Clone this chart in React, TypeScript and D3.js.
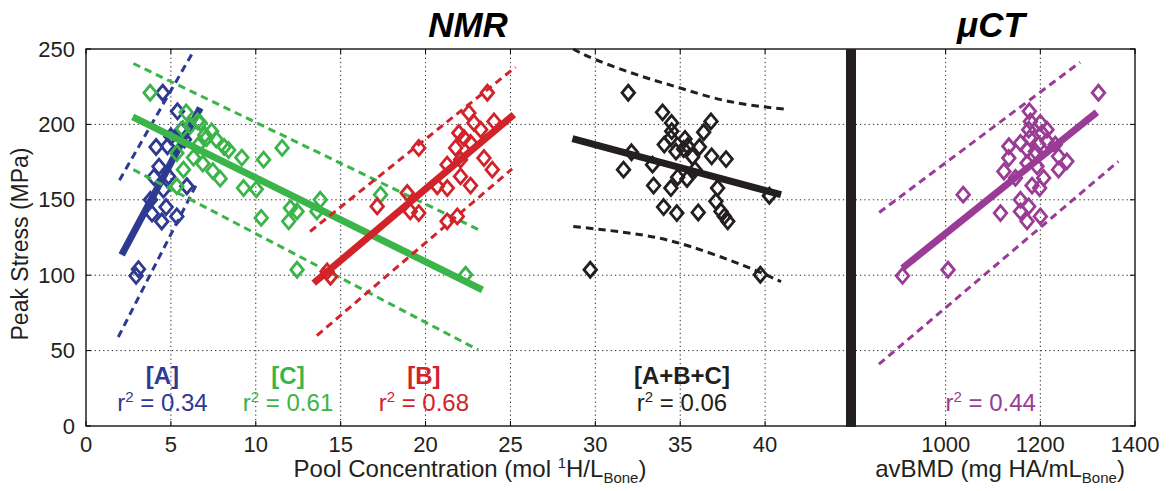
import React from "react";
import * as d3 from "d3";

// ---------- data ----------
const xTicksLeft = [0, 5, 10, 15, 20, 25, 30, 35, 40];
const xTicksRight = [1000, 1200, 1400];
const yTicks = [0, 50, 100, 150, 200, 250];

const pointsA: [number, number][] = [
  [4.52, 221], [5.39, 208.7], [4.13, 185], [4.8, 185.5], [4.86, 165.5], [4.56, 156.7],
  [5.94, 159], [3.89, 140.8], [4.72, 145.2], [4.46, 135.6], [5.35, 139], [3.09, 104],
  [2.95, 99.6], [4.3, 172], [5.0, 192], [3.8, 150], [5.6, 196], [4.0, 165], [5.8, 190],
];
const pointsC: [number, number][] = [
  [3.78, 221], [5.9, 208], [6.57, 202], [5.7, 197], [6.14, 199], [7.0, 193], [7.4, 195.4],
  [7.1, 191], [7.67, 190], [8.14, 185], [5.35, 181], [6.33, 178], [6.88, 174], [5.74, 170],
  [7.47, 169], [7.9, 164], [9.18, 178], [10.46, 176.6], [5.35, 159], [9.28, 157.8],
  [10.03, 157], [10.32, 138], [11.55, 184.4], [13.8, 150], [12.04, 144.5], [12.43, 142.3],
  [11.94, 135.7], [13.6, 142.3], [12.43, 103.6], [17.35, 153.4], [22.36, 100.3],
  [6.73, 201], [6.6, 186], [8.4, 183],
];
const pointsB: [number, number][] = [
  [23.64, 221], [22.55, 207.6], [24.03, 202], [22.85, 201], [23.25, 196.5], [21.96, 194.3],
  [22.26, 191], [19.6, 184.4], [22.65, 187.7], [21.77, 184.4], [23.44, 177.7], [21.27, 173.3],
  [22.06, 176.6], [23.93, 170], [20.69, 159], [21.28, 157.8], [22.06, 165.5], [22.65, 159.4],
  [18.92, 154.5], [17.15, 145.6], [19.1, 142.3], [19.6, 141.2], [21.27, 135.7], [21.87, 139],
  [14.4, 99], [14.2, 102.5],
];
const pointsABC: [number, number][] = [
  [31.94, 221], [33.96, 208], [34.49, 201], [36.81, 202], [36.38, 194.8], [34.45, 191],
  [34.5, 195.5], [35.28, 190.4], [34.06, 186.6], [35.44, 185.5], [36.13, 185], [34.75, 182],
  [35.2, 183.7], [32.13, 181.5], [36.85, 178.8], [37.7, 177], [35.73, 178.4], [33.37, 173.3],
  [35.87, 170], [31.66, 170], [34.85, 165], [35.4, 163.8], [33.43, 159.4], [34.45, 157.8],
  [37.2, 157.8], [40.25, 152.7], [37.1, 149], [34.02, 145.2], [34.8, 141.2], [36.06, 141.6],
  [37.4, 142.3], [37.8, 135.7], [37.6, 139], [29.7, 103.6], [39.72, 100.3],
];
const pointsCT: [number, number][] = [
  [1322.8, 221], [1176.8, 208.7], [1179, 202], [1200, 201], [1214, 196.5], [1175.5, 196.5],
  [1177.5, 191], [1203.5, 194.3], [1158, 187.7], [1133.5, 185.5], [1214, 189], [1196.5, 186.6],
  [1231.6, 186.6], [1172, 183.3], [1189.5, 182], [1133.5, 177.7], [1238.5, 178.8], [1256, 175.5],
  [1172, 174.4], [1193, 172.2], [1123, 168.8], [1238.5, 170], [1147.4, 164.5], [1207, 164.5],
  [1182.5, 159.4], [1198.5, 157.8], [1037, 153.4], [1158, 150], [1175.4, 145.6], [1158, 142.3],
  [1115.8, 141.2], [1172, 135.7], [1200, 139], [1005, 103.6], [908.8, 99.6],
];

// fit lines and prediction bands (endpoints)
const fitA: [number, number][] = [[2.1, 113.5], [6.73, 211]];
const upperA: [number, number][] = [[1.97, 163], [6.33, 248.5]];
const lowerA: [number, number][] = [[1.9, 59], [6.5, 160]];
const fitC: [number, number][] = [[2.75, 205], [23.35, 90.3]];
const upperC: [number, number][] = [[2.79, 240.4], [23.35, 129]];
const lowerC: [number, number][] = [[2.79, 170], [23.1, 50.5]];
const fitB: [number, number][] = [[13.41, 94.7], [25.2, 206.5]];
const upperB: [number, number][] = [[13.2, 129], [25.3, 238]];
const lowerB: [number, number][] = [[13.6, 60], [25.1, 170.5]];
const fitABC: [number, number][] = [[28.65, 190.6], [40.94, 153.4]];
const upperABC: [number, number][] = [[28.7, 250], [30.0, 243], [32.7, 232], [35.04, 224], [37.8, 215.4], [41.24, 210]];
const lowerABC: [number, number][] = [[28.7, 132.3], [32.7, 126.8], [35.6, 119], [38.6, 107], [40.94, 95.8]];
const fitCT: [number, number][] = [[908.8, 104.7], [1319.4, 208]];
const upperCT: [number, number][] = [[859.6, 141.6], [1284, 241.2]];
const lowerCT: [number, number][] = [[859, 41], [1365, 175.5]];

const labels = [
  { group: "[A]", r2: "0.34", xv: 4.5, color: "#2E3A92" },
  { group: "[C]", r2: "0.61", xv: 11.9, color: "#3BB44A" },
  { group: "[B]", r2: "0.68", xv: 19.9, color: "#D2232A" },
  { group: "[A+B+C]", r2: "0.06", xv: 35.1, color: "#231F20" },
];
const labelCT = { r2: "0.44", xv: 1095, color: "#9A3B95" };

// ---------- layout ----------
const W = 1170, H = 491;
const FONT = "'Liberation Sans', Arial, Helvetica, sans-serif";
const xL = d3.scaleLinear().domain([0, 45]).range([86, 850]);
const xR = d3.scaleLinear().domain([800, 1400]).range([851, 1135]);
const y = d3.scaleLinear().domain([0, 250]).range([426, 49]);

const diamond = (cx: number, cy: number) =>
  `M${cx},${cy - 7.5}L${cx + 6.3},${cy}L${cx},${cy + 7.5}L${cx - 6.3},${cy}Z`;

function Group({ pts, fit, up, lo, color, xs, curved }: any) {
  const line = d3.line<[number, number]>().x((d) => xs(d[0])).y((d) => y(d[1]));
  const cline = d3.line<[number, number]>().x((d) => xs(d[0])).y((d) => y(d[1])).curve(d3.curveNatural);
  const band = curved ? cline : line;
  return (
    <g>
      <path d={band(up) || ""} stroke={color} strokeWidth={3} strokeDasharray="7.5,5" fill="none" />
      <path d={band(lo) || ""} stroke={color} strokeWidth={3} strokeDasharray="7.5,5" fill="none" />
      {pts.map((p: [number, number], i: number) => (
        <path key={i} d={diamond(xs(p[0]), y(p[1]))} fill="none" stroke={color} strokeWidth={2.8} />
      ))}
      <path d={line(fit) || ""} stroke={color} strokeWidth={7} fill="none" />
    </g>
  );
}

export default function App() {
  const left = 86, right = 1135, top = 49, bottom = 426;
  const grid = { stroke: "#2a2a2a", strokeWidth: 1, strokeDasharray: "1.3,3" };
  return (
    <svg width={W} height={H} style={{ position: "absolute", left: 0, top: 0, background: "#fff" }}
      fontFamily={FONT}>
      <rect x={0} y={0} width={W} height={H} fill="#fff" />
      {/* grid */}
      {yTicks.filter((t) => t > 0 && t < 250).map((t) => (
        <line key={"gy" + t} x1={left} x2={right} y1={y(t)} y2={y(t)} {...grid} />
      ))}
      {xTicksLeft.filter((t) => t > 0).map((t) => (
        <line key={"gx" + t} x1={xL(t)} x2={xL(t)} y1={top} y2={bottom} {...grid} />
      ))}
      {xTicksRight.filter((t) => t < 1400).map((t) => (
        <line key={"gr" + t} x1={xR(t)} x2={xR(t)} y1={top} y2={bottom} {...grid} />
      ))}
      {/* tick marks */}
      {xTicksLeft.map((t) => (
        <g key={"tl" + t}>
          <line x1={xL(t)} x2={xL(t)} y1={bottom} y2={bottom - 5} stroke="#000" />
          <line x1={xL(t)} x2={xL(t)} y1={top} y2={top + 5} stroke="#000" />
        </g>
      ))}
      {xTicksRight.map((t) => (
        <g key={"tr" + t}>
          <line x1={xR(t)} x2={xR(t)} y1={bottom} y2={bottom - 5} stroke="#000" />
          <line x1={xR(t)} x2={xR(t)} y1={top} y2={top + 5} stroke="#000" />
        </g>
      ))}
      {yTicks.map((t) => (
        <g key={"ty" + t}>
          <line x1={left} x2={left + 5} y1={y(t)} y2={y(t)} stroke="#000" />
          <line x1={right} x2={right - 5} y1={y(t)} y2={y(t)} stroke="#000" />
        </g>
      ))}
      {/* frame */}
      <rect x={left} y={top} width={right - left} height={bottom - top} fill="none" stroke="#000" strokeWidth={1.3} />
      {/* data groups */}
      <Group pts={pointsA} fit={fitA} up={upperA} lo={lowerA} color="#2E3A92" xs={xL} />
      <Group pts={pointsC} fit={fitC} up={upperC} lo={lowerC} color="#3BB44A" xs={xL} />
      <Group pts={pointsB} fit={fitB} up={upperB} lo={lowerB} color="#D2232A" xs={xL} />
      <Group pts={pointsABC} fit={fitABC} up={upperABC} lo={lowerABC} color="#231F20" xs={xL} curved />
      <Group pts={pointsCT} fit={fitCT} up={upperCT} lo={lowerCT} color="#9A3B95" xs={xR} />
      {/* separator */}
      <rect x={846} y={top} width={10} height={bottom - top + 1} fill="#231F20" />
      {/* tick labels */}
      {yTicks.map((t) => (
        <text key={"yl" + t} x={75} y={y(t) + 7.5} fontSize={22} textAnchor="end" fill="#231F20">{t}</text>
      ))}
      {xTicksLeft.map((t) => (
        <text key={"xl" + t} x={xL(t)} y={452} fontSize={22} textAnchor="middle" fill="#231F20">{t}</text>
      ))}
      {xTicksRight.map((t) => (
        <text key={"xr" + t} x={xR(t)} y={452} fontSize={22} textAnchor="middle" fill="#231F20">{t}</text>
      ))}
      {/* axis labels */}
      <text transform="translate(28,244) rotate(-90)" fontSize={23} textAnchor="middle" fill="#231F20">Peak Stress (MPa)</text>
      <text x={470} y={477} fontSize={24} textAnchor="middle" fill="#231F20">
        Pool Concentration (mol <tspan fontSize={15} dy={-9}>1</tspan><tspan dy={9}>H/L</tspan>
        <tspan fontSize={15} dy={6}>Bone</tspan><tspan dy={-6}>)</tspan>
      </text>
      <text x={1000} y={477} fontSize={24} textAnchor="middle" fill="#231F20">
        avBMD (mg HA/mL<tspan fontSize={15} dy={6}>Bone</tspan><tspan dy={-6}>)</tspan>
      </text>
      {/* titles */}
      <text x={468} y={37} fontSize={35} fontWeight="bold" fontStyle="italic" textAnchor="middle" fill="#000">NMR</text>
      <text x={991} y={37} fontSize={35} fontWeight="bold" fontStyle="italic" textAnchor="middle" fill="#000">μCT</text>
      {/* annotations */}
      {labels.map((l) => (
        <g key={l.group} fill={l.color}>
          <text x={xL(l.xv)} y={384} fontSize={24} fontWeight="bold" textAnchor="middle">{l.group}</text>
          <text x={xL(l.xv)} y={411} fontSize={24} textAnchor="middle">
            r<tspan fontSize={15} dy={-9}>2</tspan><tspan dy={9}> = {l.r2}</tspan>
          </text>
        </g>
      ))}
      <text x={xR(labelCT.xv)} y={411} fontSize={24} textAnchor="middle" fill={labelCT.color}>
        r<tspan fontSize={15} dy={-9}>2</tspan><tspan dy={9}> = {labelCT.r2}</tspan>
      </text>
    </svg>
  );
}
